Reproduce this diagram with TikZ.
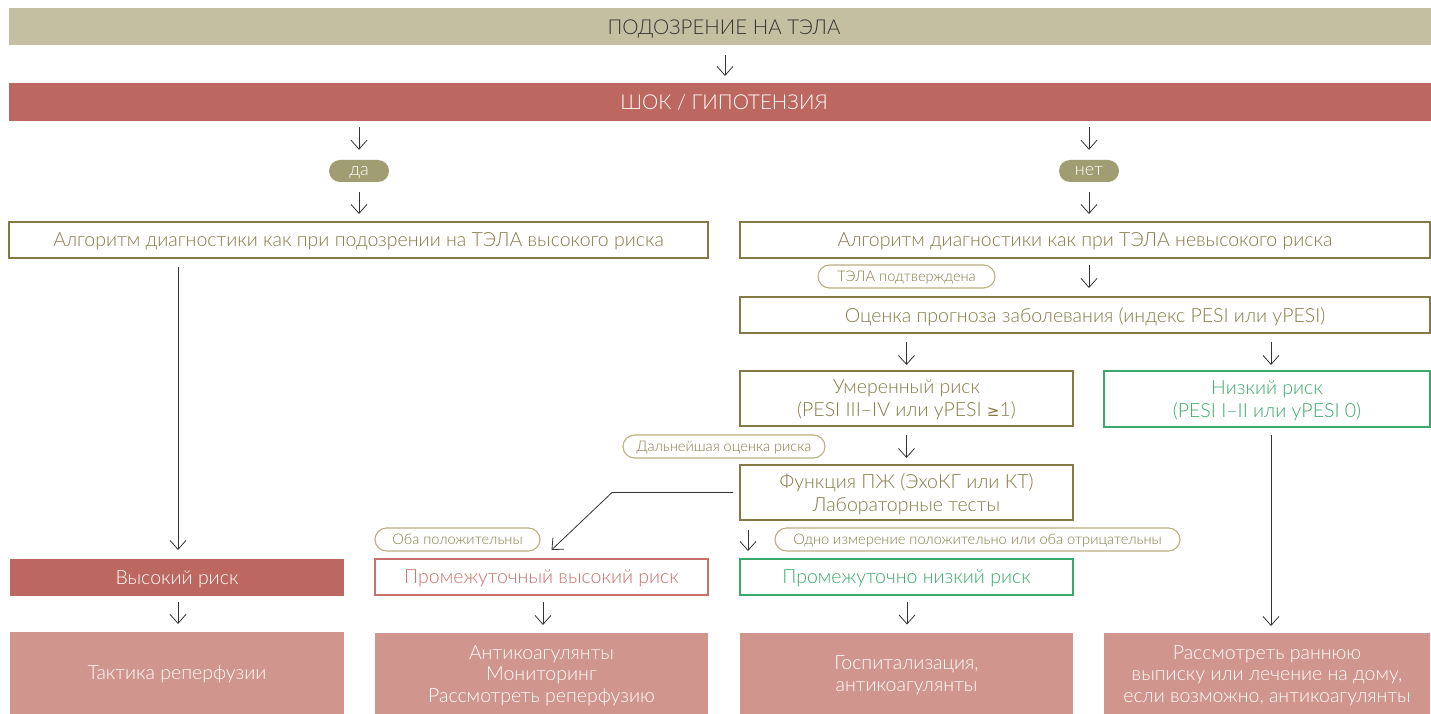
\documentclass[tikz,border=0pt]{standalone}
\usepackage{fontspec}
\setmainfont{Lato}[UprightFont={* Light}]
\newfontfamily\symf{DejaVu Sans}
\usetikzlibrary{arrows.meta,calc}
\definecolor{tanbar}{HTML}{C3BFA0}
\definecolor{redbar}{HTML}{BC675F}
\definecolor{pillfill}{HTML}{A09D72}
\definecolor{olive}{HTML}{857A45}
\definecolor{pillline}{HTML}{B8AE80}
\definecolor{greenc}{HTML}{3AAA6A}
\definecolor{redline}{HTML}{C8706B}
\definecolor{pinkfill}{HTML}{D0958D}
\definecolor{arrc}{HTML}{333333}
\begin{document}
\begin{tikzpicture}[x=1pt,y=-1pt,
  box/.style={rectangle, inner sep=0pt, outer sep=0pt, align=center, text depth=0pt, font=\fontsize{19.5}{23}\selectfont},
  fillbar/.style={box, fill=#1, text=white},
  topbar/.style={fillbar=#1, font=\fontsize{20.5}{23}\selectfont, minimum width=1430pt},
  bottombox/.style={fillbar=pinkfill, minimum height=82pt, font=\fontsize{19.5}{21.5}\selectfont},
  olbox/.style={box, draw=olive, line width=1.4pt, text=olive},
  grbox/.style={box, draw=greenc, line width=1.4pt, text=greenc},
  rdbox/.style={box, draw=redline, line width=1.4pt, text=redline},
  pill/.style={rectangle, rounded corners=11pt, fill=pillfill, text=white, inner sep=0pt, text depth=0pt, minimum height=22pt, minimum width=60pt, font=\fontsize{18}{20}\selectfont},
  opill/.style={rectangle, rounded corners=11.5pt, draw=pillline, line width=1.1pt, text=olive, inner sep=0pt, text depth=0pt, minimum height=23pt, font=\fontsize{14.6}{16}\selectfont},
  arr/.style={draw=arrc, line width=0.8pt, -{Straight Barb[length=9pt,width=16pt]}}
]
\useasboundingbox (0,0) rectangle (1431,714);

\node[topbar=tanbar, text=black!80, minimum height=37pt] (top) at (724,27) {ПОДОЗРЕНИЕ НА ТЭЛА};
\node[topbar=redbar, minimum height=38pt] (shock) at (724,102) {ШОК / ГИПОТЕНЗИЯ};

\node[pill] (da) at (359,171) {да};
\node[pill] (net) at (1089,171) {нет};

\node[olbox, minimum width=699pt, minimum height=36pt] (alg1) at (358.5,240) {Алгоритм диагностики как при подозрении на ТЭЛА высокого риска};
\node[olbox, minimum width=690pt, minimum height=36pt] (alg2) at (1085,240) {Алгоритм диагностики как при ТЭЛА невысокого риска};
\node[opill, minimum width=177pt] (conf) at (906.5,276.5) {ТЭЛА подтверждена};
\node[olbox, minimum width=690pt, minimum height=36pt] (est) at (1085,315) {Оценка прогноза заболевания (индекс PESI или уPESI)};

\node[olbox, minimum width=333pt, minimum height=55pt] (mod) at (906.5,398.5) {Умеренный риск\\(PESI III–IV или уPESI {\symf\fontsize{15}{18}\selectfont ≥}1)};
\node[grbox, minimum width=326pt, minimum height=56pt] (low) at (1267,399) {Низкий риск\\(PESI I–II или уPESI 0)};

\node[opill, minimum width=202pt] (further) at (724,446.5) {Дальнейшая оценка риска};
\node[olbox, minimum width=333pt, minimum height=55pt] (fun) at (906.5,492.5) {Функция ПЖ (ЭхоКГ или КТ)\\Лабораторные тесты};

\node[opill, minimum width=165pt] (both) at (457.5,539.5) {Оба положительны};
\node[opill, minimum width=405pt] (one) at (977.5,539.5) {Одно измерение положительно или оба отрицательны};

\node[fillbar=redbar, minimum width=334pt, minimum height=37pt] (high) at (177,577.5) {Высокий риск};
\node[rdbox, minimum width=333pt, minimum height=36pt] (ihigh) at (541.5,577) {Промежуточный высокий риск};
\node[grbox, minimum width=333pt, minimum height=36pt] (ilow) at (906.5,577) {Промежуточно низкий риск};

\node[bottombox, minimum width=334pt] (t1) at (177,673) {Тактика реперфузии};
\node[bottombox, minimum width=333pt] (t2) at (541.5,674) {Антикоагулянты\\Мониторинг\\Рассмотреть реперфузию};
\node[bottombox, minimum width=333pt] (t3) at (906.5,673.5) {Госпитализация,\\антикоагулянты};
\node[bottombox, minimum width=326pt] (t4) at (1267,674) {Рассмотреть раннюю\\выписку или лечение на дому,\\если возможно, антикоагулянты};

\coordinate (bend) at (612,492.5);

% arrows
\draw[arr] ($(top.south)+(1,10)$) -- ($(shock.north)+(1,-7)$);
\draw[arr] ($(shock.south -| da.north)+(0,6)$) -- ($(da.north)+(0,-10)$);
\draw[arr] ($(shock.south -| net.north)+(0,6)$) -- ($(net.north)+(0,-10)$);
\draw[arr] ($(da.south)+(0,10)$) -- ($(alg1.north -| da.south)+(0,-8)$);
\draw[arr] ($(net.south)+(0,10)$) -- ($(alg2.north -| net.south)+(0,-8)$);
\draw[arr] ($(alg2.south -| net.south)+(0,7)$) -- ($(est.north -| net.south)+(0,-9)$);
\draw[arr] ($(est.south -| mod.north)+(0,9)$) -- ($(mod.north)+(0,-6)$);
\draw[arr] ($(est.south -| low.north)+(4,9)$) -- ($(low.north)+(4,-6)$);
\draw[arr] ($(mod.south)+(0,9)$) -- ($(fun.north)+(0,-7)$);
\draw[arr] ($(fun.west)+(-7,0)$) -- (bend) -- ($(ihigh.north)+(10,-9)$);
\draw[arr] ($(fun.south -| ilow.west)+(8,10)$) -- ($(ilow.north west)+(8,-8)$);
\draw[arr] ($(alg1.south -| high.north)+(1,9)$) -- ($(high.north)+(1,-9)$);
\draw[arr] ($(low.south)+(4,8)$) -- ($(t4.north)+(4,-7)$);
\draw[arr] ($(high.south)+(1,6)$) -- ($(t1.north)+(1,-8)$);
\draw[arr] ($(ihigh.south)+(1.5,7)$) -- ($(t2.north)+(1.5,-8)$);
\draw[arr] ($(ilow.south)+(0.5,7)$) -- ($(t3.north)+(0.5,-8)$);
\end{tikzpicture}
\end{document}
